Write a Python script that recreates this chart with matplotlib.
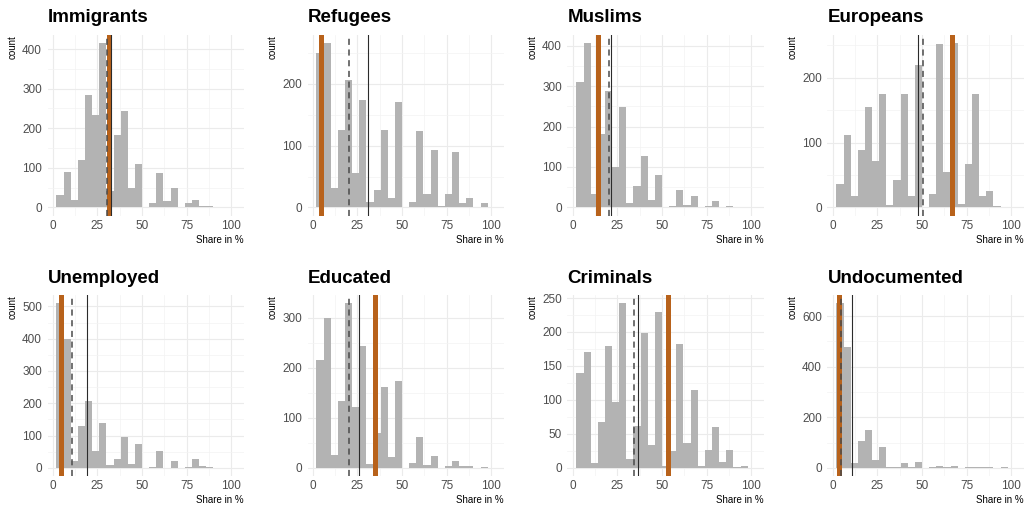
"""Histograms of estimated group shares with reference lines."""

import numpy as np
import matplotlib.pyplot as plt
from matplotlib.ticker import MultipleLocator

plt.rcParams['font.family'] = ['Liberation Sans', 'DejaVu Sans']

#####################################################################################
# Data
#####################################################################################

groups = ['Immigrants', 'Refugees', 'Muslims', 'Europeans',
          'Unemployed', 'Educated', 'Criminals', 'Undocumented']

# Bin edges of the histograms (share in %), width 4
bin_edges = np.arange(2, 99, 4)

# Counts per bin, one list per group
immigrants = [31, 89, 18, 119, 285, 234, 415, 41, 182, 243, 48, 111,
              1, 12, 87, 17, 50, 1, 11, 20, 4, 4, 2, 2]
refugees = [250, 266, 31, 125, 206, 56, 174, 9, 29, 125, 16, 170,
            1, 9, 123, 21, 93, 3, 22, 90, 8, 16, 0, 7]
muslims = [309, 406, 33, 181, 287, 100, 248, 12, 52, 126, 19, 81,
           0, 4, 43, 5, 28, 0, 4, 16, 0, 3, 0, 1]
europeans = [36, 112, 17, 88, 155, 71, 175, 4, 42, 175, 17, 220,
             0, 21, 252, 55, 253, 5, 67, 175, 18, 26, 2, 1]
unemployed = [509, 398, 22, 129, 206, 52, 139, 8, 27, 95, 12, 75,
              0, 4, 51, 1, 21, 0, 4, 28, 5, 4, 0, 0]
educated = [216, 299, 25, 134, 329, 121, 244, 7, 70, 161, 21, 174,
            0, 9, 61, 5, 24, 0, 4, 14, 3, 3, 0, 1]
criminals = [140, 170, 7, 68, 179, 97, 242, 13, 62, 198, 33, 229,
             3, 25, 183, 37, 115, 2, 26, 60, 8, 26, 1, 3]
undocumented = [650, 476, 21, 105, 151, 31, 83, 5, 5, 20, 4, 25,
                0, 2, 9, 2, 6, 0, 2, 5, 2, 5, 1, 2]

counts = [immigrants, refugees, muslims, europeans,
          unemployed, educated, criminals, undocumented]

# Reference lines: true share (orange), median (dashed), mean (solid)
true_share = [31.5, 4.8, 13.9, 66.7, 4.4, 34.9, 53.5, 3.7]
median_est = [30.5, 20.0, 20.1, 50.4, 10.6, 20.1, 34.5, 4.8]
mean_est = [32.8, 30.8, 21.6, 47.8, 19.4, 25.6, 36.4, 10.6]

# y tick spacing for each panel
y_steps = [100, 100, 100, 100, 100, 100, 50, 200]

#####################################################################################
# Plot
#####################################################################################

fig, axes = plt.subplots(2, 4, figsize=(10.33, 5.13), dpi=100)
fig.subplots_adjust(left=0.046, right=0.991, top=0.932, bottom=0.072,
                    wspace=0.325, hspace=0.44)

for ax, name, cnt, tru, med, avg, step in zip(axes.flat, groups, counts, true_share,
                                              median_est, mean_est, y_steps):

    # Histogram bars
    ax.bar(bin_edges[:-1], cnt, width=4, align='edge', color='#b3b3b3',
           linewidth=0, zorder=2)

    # Reference lines
    ax.axvline(tru, color='#b8621b', lw=3.6, zorder=3)
    ax.axvline(med, color='#4a4a4a', lw=1.1, ls=(0, (4, 3)), zorder=4)
    ax.axvline(avg, color='#2b2b2b', lw=0.8, zorder=4)

    # Limits with ggplot style padding
    top = max(cnt)
    ax.set_xlim(-3, 107)
    ax.set_ylim(-0.05 * top, 1.05 * top)

    # Ticks & grid
    ax.xaxis.set_major_locator(MultipleLocator(25))
    ax.xaxis.set_minor_locator(MultipleLocator(12.5))
    ax.yaxis.set_major_locator(MultipleLocator(step))
    ax.yaxis.set_minor_locator(MultipleLocator(step / 2))
    ax.set_xticks([0, 25, 50, 75, 100])
    ax.grid(which='major', color='#ebebeb', lw=0.8, zorder=0)
    ax.grid(which='minor', color='#f3f3f3', lw=0.5, zorder=0)
    ax.tick_params(which='both', length=0, labelsize=8.5, labelcolor='#4d4d4d')
    ax.tick_params(axis='x', pad=3)
    ax.tick_params(axis='y', pad=4)
    for sp in ax.spines.values():
        sp.set_visible(False)

    # Title & labels
    ax.set_title(name, loc='left', fontsize=13.5, fontweight='bold', pad=9)
    ax.set_ylabel('count', loc='top', fontsize=7, labelpad=3)
    ax.set_xlabel('Share in %', loc='right', fontsize=7, labelpad=2)

plt.savefig('out.png', dpi=100)
